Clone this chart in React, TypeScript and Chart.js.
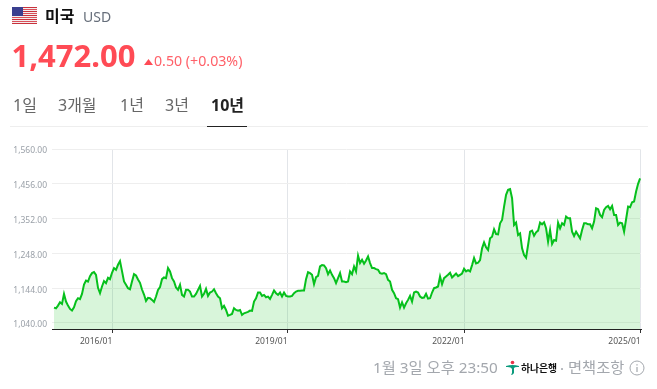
import React, { useEffect, useRef } from "react";
import { Chart, registerables } from "chart.js";

Chart.register(...registerables);

const START_YEAR = 2015.007;
const YEAR_STEP = 0.03407;

const seg2015 = [1086,1084,1092,1102,1097,1127,1104,1092,1082,1077,1087,1105,1114,1111,1127,1155,1167,1164,1180,1189,1192,1184,1145,1129,1149,1165,1159,1175,1171,1190,1204,1199,1214,1225,1195,1164,1154,1144,1141,1164,1186,1182,1170,1160,1140,1125,1106,1115,1114];
const seg2017 = [1109,1103,1119,1139,1147,1171,1176,1174,1204,1194,1174,1164,1146,1139,1154,1124,1119,1139,1139,1134,1119,1119,1127,1139,1151,1119,1127,1142,1121,1131,1134,1141,1129,1119,1114,1084,1091,1079,1062,1064,1067,1084,1079,1077,1079,1064,1069,1071,1073,1077];
const seg2018 = [1076,1104,1114,1131,1131,1121,1124,1117,1119,1112,1124,1137,1129,1124,1131,1119,1131,1121,1119,1119,1121,1129,1134,1136,1136,1137,1137,1171,1192,1189,1184,1156,1177,1181,1209,1213,1212,1204,1186,1197,1184,1174,1159,1174,1189,1164,1164,1162,1164,1194];
const seg2020 = [1186,1209,1194,1241,1219,1229,1217,1227,1239,1219,1204,1204,1201,1199,1189,1187,1189,1186,1169,1164,1139,1129,1114,1111,1086,1102,1086,1099,1109,1121,1104,1131,1134,1131,1119,1115,1116,1127,1113,1114,1131,1144,1146,1149,1179,1156,1174,1179,1184,1190];
const seg2022 = [1176,1182,1188,1180,1184,1188,1202,1194,1198,1194,1213,1234,1218,1220,1228,1263,1281,1266,1258,1293,1298,1320,1306,1305,1338,1348,1388,1423,1438,1440,1413,1333,1340,1303,1308,1263,1243,1235,1273,1313,1316,1301,1311,1316,1340,1335,1341,1323,1283,1318];
const seg2023 = [1276,1288,1286,1340,1323,1338,1333,1358,1353,1353,1313,1300,1313,1303,1293,1318,1338,1338,1335,1335,1323,1343,1383,1380,1363,1356,1378,1386,1390,1380,1390,1363,1363,1333,1340,1338,1313,1350,1388,1386,1401,1403,1433,1456,1472];

const rates = [...seg2015, ...seg2017, ...seg2018, ...seg2020, ...seg2022, ...seg2023];
const yTicks = [1040, 1144, 1248, 1352, 1456, 1560];
const xTicks = [2016, 2018.985, 2022, 2025];
const xTickLabels = ["2016/01", "2019/01", "2022/01", "2025/01"];

const CJK = '"Noto Sans", "Noto Sans CJK KR", sans-serif';

const T: React.FC<{ x: number; y: number; s: number; c: string; w?: number; children: React.ReactNode }> = ({ x, y, s, c, w, children }) => (
  <div style={{ position: "absolute", left: x, top: y, transform: "translateY(-50%)", fontSize: s, color: c, fontWeight: w ?? 400, fontFamily: CJK, whiteSpace: "nowrap", lineHeight: 1 }}>{children}</div>
);

export default function App() {
  const ref = useRef<HTMLCanvasElement>(null);
  useEffect(() => {
    const chart = new Chart(ref.current!, {
      type: "line",
      data: {
        datasets: [{
          data: rates.map((v, i) => ({ x: START_YEAR + i * YEAR_STEP, y: v })),
          borderColor: "#06c01c",
          backgroundColor: "rgba(40,200,50,0.18)",
          borderWidth: 2,
          pointRadius: 0,
          tension: 0,
          fill: "start",
        }],
      },
      options: {
        animation: false,
        responsive: false,
        layout: { padding: { left: 0, right: 16, top: 149, bottom: 0 } },
        plugins: { legend: { display: false }, tooltip: { enabled: false } },
        scales: {
          x: {
            type: "linear",
            min: 2014.973,
            max: 2025.005,
            afterFit: (s: any) => { s.height = 60; },
            afterBuildTicks: (s: any) => { s.ticks = xTicks.map((value) => ({ value })); },
            grid: { color: "#e2e5e9", tickColor: "#333", tickLength: 4, lineWidth: 1 },
            border: { color: "#222", width: 1 },
            ticks: {
              autoSkip: false, maxRotation: 0, align: "end", padding: 3,
              color: "#555", font: { family: "Noto Sans", size: 8.5 },
              callback: (v: any) => xTickLabels[xTicks.indexOf(Number(v))] ?? "",
            },
          },
          y: {
            min: 1022,
            max: 1560,
            afterFit: (s: any) => { s.width = 52; },
            afterBuildTicks: (s: any) => { s.ticks = yTicks.map((value) => ({ value })); },
            grid: { color: "#eeeeee", drawTicks: false, lineWidth: 1 },
            border: { display: false },
            ticks: {
              padding: 5, labelOffset: 2, color: "#9aa0a8", font: { family: "Noto Sans", size: 8.5 },
              callback: (v: any) => Number(v).toLocaleString("en-US", { minimumFractionDigits: 2, maximumFractionDigits: 2 }),
            },
          },
        },
      },
    } as any);
    return () => chart.destroy();
  }, []);

  return (
    <div style={{ position: "fixed", left: 0, top: 0, width: 657, height: 389, overflow: "hidden", background: "#fff" }}>
      <canvas ref={ref} width={657} height={389} style={{ position: "absolute", left: 0, top: 0, display: "block" }} />

      <svg style={{ position: "absolute", left: 12, top: 7 }} width={25} height={17} viewBox="0 0 25 17">
        {[0, 2, 4, 6, 8, 10, 12, 14, 16].map((y) => (
          <rect key={y} x={0} y={y} width={25} height={1} fill={y % 4 === 0 ? "#c8323c" : "#d9505a"} />
        ))}
        {[1, 3, 5, 7, 9, 11, 13, 15].map((y) => (
          <rect key={y} x={0} y={y} width={25} height={1} fill="#f4eeee" />
        ))}
        <rect x={0} y={0} width={11} height={9} fill="#3a3f8f" />
      </svg>
      <T x={45} y={15.5} s={16} c="#111" w={700}>미국</T>
      <T x={83} y={16.5} s={14} c="#666e7a">USD</T>
      <T x={11.5} y={55} s={31} c="#ff4b55" w={700}>1,472.00</T>
      <svg style={{ position: "absolute", left: 144, top: 59 }} width={9} height={6}><path d="M0 6 L4.5 0 L9 6 Z" fill="#ff4b55" /></svg>
      <T x={154} y={61} s={14.2} c="#ff6169">0.50 (+0.03%)</T>

      <T x={13} y={105} s={16} c="#666">1일</T>
      <T x={58} y={105} s={16} c="#666">3개월</T>
      <T x={120} y={105} s={16} c="#666">1년</T>
      <T x={165} y={105} s={16} c="#666">3년</T>
      <T x={211} y={105} s={16} c="#222" w={700}>10년</T>
      <div style={{ position: "absolute", left: 10, top: 126, width: 638, height: 1, background: "#eeeeee" }} />
      <div style={{ position: "absolute", left: 207, top: 126, width: 40, height: 1, background: "#222" }} />

      <T x={373} y={368} s={15.3} c="#a3a7ad">1월 3일 오후 23:50</T>
      <svg style={{ position: "absolute", left: 505, top: 360 }} width={15} height={16} viewBox="0 0 15 16">
        <circle cx={7.5} cy={2.5} r={1.8} fill="#e8344a" />
        <path d="M1 6 Q7.5 4 14 6 L14 7 Q10 6.5 9 8 L9 13 Q8 15 6 15 Q7.5 13 7 9 Q6 6.5 1 7 Z" fill="#0a9a7c" />
      </svg>
      <T x={521} y={368.5} s={9.8} c="#111" w={700}>하나은행</T>
      <T x={560} y={368} s={15} c="#a3a7ad">·</T>
      <T x={568} y={368} s={15.3} c="#a3a7ad">면책조항</T>
      <svg style={{ position: "absolute", left: 629, top: 360 }} width={16} height={16} viewBox="0 0 16 16">
        <circle cx={8} cy={8} r={7} fill="none" stroke="#a3a7ad" strokeWidth={1} />
        <rect x={7.4} y={7} width={1.2} height={5} fill="#a3a7ad" />
        <rect x={7.4} y={4.2} width={1.2} height={1.3} fill="#a3a7ad" />
      </svg>
    </div>
  );
}
